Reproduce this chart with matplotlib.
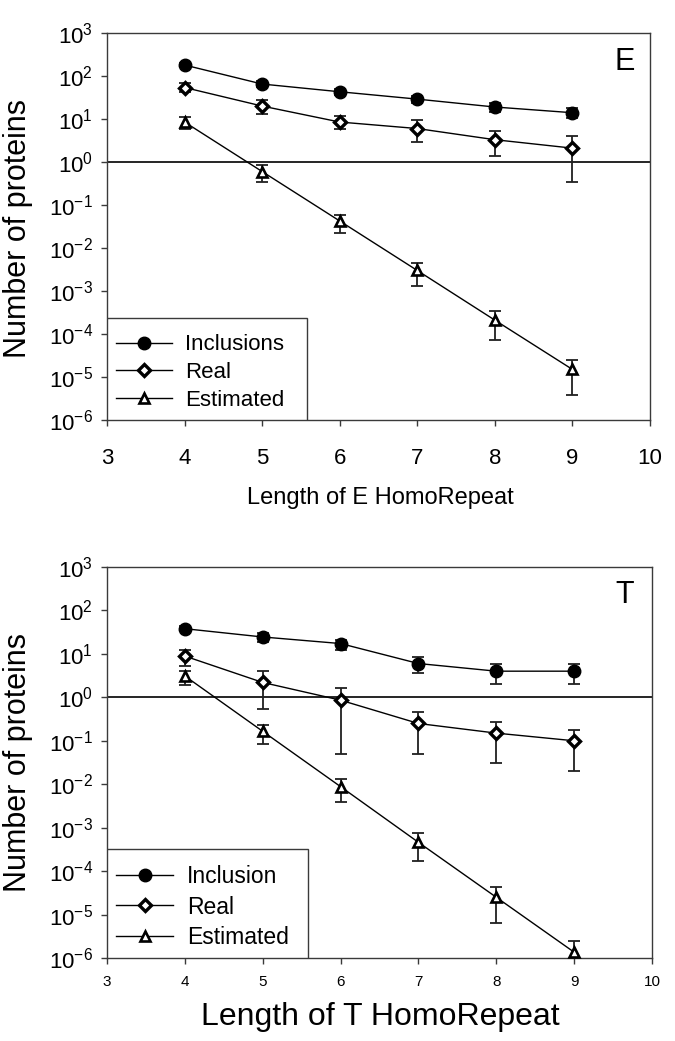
import numpy as np
import matplotlib
matplotlib.use("Agg")
import matplotlib.pyplot as plt
from matplotlib.ticker import FixedLocator, FuncFormatter, NullLocator
from matplotlib.patches import Rectangle

plt.rcParams['font.family'] = ['Liberation Sans', 'DejaVu Sans']
plt.rcParams['mathtext.fontset'] = 'custom'
plt.rcParams['mathtext.rm'] = 'Liberation Sans'

# ---------------- data ----------------
lengths = [4, 5, 6, 7, 8, 9]

# Panel E
e_incl = [180, 65, 43, 29, 19, 14]
e_incl_hi = [200, 75, 50, 35, 23, 18]
e_incl_lo = [160, 55, 37, 23, 14.5, 10.3]
e_real = [54, 20, 8.5, 6, 3.3, 2.1]
e_real_hi = [68, 27, 12, 9.4, 5.3, 4.0]
e_real_lo = [42, 13, 5.8, 2.9, 1.36, 0.34]
e_est = [8.5, 0.6, 0.0425, 0.003, 2.1e-4, 1.5e-5]
e_est_hi = [11.3, 0.83, 0.06, 0.0045, 3.4e-4, 2.5e-5]
e_est_lo = [5.8, 0.35, 0.022, 0.0013, 7.1e-5, 3.9e-6]

# Panel T
t_incl = [38, 24.5, 17.3, 6, 4, 4]
t_incl_hi = [43, 30, 21, 8.6, 6, 6]
t_incl_lo = [34, 18.6, 12.6, 3.55, 2.0, 2.0]
t_real = [8.9, 2.2, 0.86, 0.25, 0.15, 0.1]
t_real_hi = [12.6, 4.0, 1.66, 0.45, 0.275, 0.177]
t_real_lo = [5.4, 0.53, 0.05, 0.05, 0.03, 0.02]
t_est = [3.1, 0.165, 0.0088, 4.6e-4, 2.5e-5, 1.36e-6]
t_est_hi = [4.1, 0.234, 0.0133, 7.5e-4, 4.3e-5, 2.4e-6]
t_est_lo = [1.9, 0.084, 0.0038, 1.7e-4, 6.4e-6, 6e-7]

x_ticks = [3, 4, 5, 6, 7, 8, 9, 10]
y_exps = [3, 2, 1, 0, -1, -2, -3, -4, -5, -6]

W, H = 675, 1041
fig = plt.figure(figsize=(W / 100, H / 100), dpi=100)

spine_col = '#3a3a3a'


def fmt(v, pos):
    e = int(round(np.log10(v)))
    return r'$\mathregular{10^{%d}}$' % e


def panel(rect, incl, incl_hi, incl_lo, real, real_hi, real_lo, est, est_hi, est_lo,
          letter, letter_xy, incl_label, xlabel, xtick_size, xtick_pad, xlabel_y, ylabel_y,
          xlabel_size, leg_spacing, leg_box, leg_font, leg_pad):
    ax = fig.add_axes(rect)
    ax.set_yscale('log')
    ax.set_xlim(3, 10)
    ax.set_ylim(1e-6, 1e3)
    ax.axhline(1.0, color='black', lw=1.2, zorder=1)

    def series(y, hi, lo, marker, mfc, ms, mew, label):
        y = np.array(y); hi = np.array(hi); lo = np.array(lo)
        ax.errorbar(lengths, y, yerr=[y - lo, hi - y], fmt='none', ecolor='#202020',
                    elinewidth=1.3, capsize=4.3, capthick=1.3, zorder=2)
        ax.plot(lengths, y, color='black', lw=1.0, marker=marker, mfc=mfc, mec='black',
                ms=ms, mew=mew, label=label, zorder=3)

    series(incl, incl_hi, incl_lo, 'o', 'black', 9, 1.0, incl_label)
    series(real, real_hi, real_lo, 'D', 'white', 6.5, 2.4, 'Real')
    series(est, est_hi, est_lo, '^', 'white', 7.5, 1.9, 'Estimated')

    ax.xaxis.set_major_locator(FixedLocator(x_ticks))
    ax.yaxis.set_major_locator(FixedLocator([10.0 ** e for e in y_exps]))
    ax.yaxis.set_major_formatter(FuncFormatter(fmt))
    ax.yaxis.set_minor_locator(NullLocator())
    ax.tick_params(axis='both', direction='out', length=4, width=1.0, color=spine_col)
    ax.tick_params(axis='y', labelsize=16, pad=6)
    ax.tick_params(axis='x', labelsize=xtick_size, pad=xtick_pad)
    for s in ax.spines.values():
        s.set_color(spine_col)
        s.set_linewidth(1.0)

    ax.text(letter_xy[0], letter_xy[1], letter, transform=ax.transAxes,
            ha='right', va='top', fontsize=22)

    ax.add_patch(Rectangle((0, 0), leg_box[0], leg_box[1], transform=ax.transAxes,
                           fill=True, facecolor='white', edgecolor=spine_col, lw=1.0,
                           zorder=4))
    leg = ax.legend(loc='lower left', bbox_to_anchor=(0, 0), borderaxespad=0,
                    fontsize=leg_font, frameon=False,
                    handlelength=2.5, handletextpad=0.6, labelspacing=leg_spacing,
                    borderpad=leg_pad)
    leg.set_zorder(5)

    fig.text(380 / W, 1 - xlabel_y / H, xlabel, ha='center', va='center', fontsize=xlabel_size)
    fig.text(18 / W, 1 - ylabel_y / H, 'Number of proteins', ha='center', va='center',
             rotation=90, fontsize=22)
    return ax


panel([107 / W, 1 - 420 / H, 543 / W, 387 / H],
      e_incl, e_incl_hi, e_incl_lo, e_real, e_real_hi, e_real_lo, e_est, e_est_hi, e_est_lo,
      'E', (0.972, 0.965), 'Inclusions', 'Length of E HomoRepeat', 16, 16, 498, 229, 17, 0.3,
      ((307 - 107) / 543, (420 - 318) / 387), 16, 0.42)

panel([107 / W, 1 - 958 / H, 545 / W, 391 / H],
      t_incl, t_incl_hi, t_incl_lo, t_real, t_real_hi, t_real_lo, t_est, t_est_hi, t_est_lo,
      'T', (0.967, 0.968), 'Inclusion', 'Length of T HomoRepeat', 11, 8, 1017, 762, 23, 0.32,
      ((308 - 107) / 545, (958 - 849) / 391), 16.5, 0.4)

fig.savefig('out.png', dpi=100)
